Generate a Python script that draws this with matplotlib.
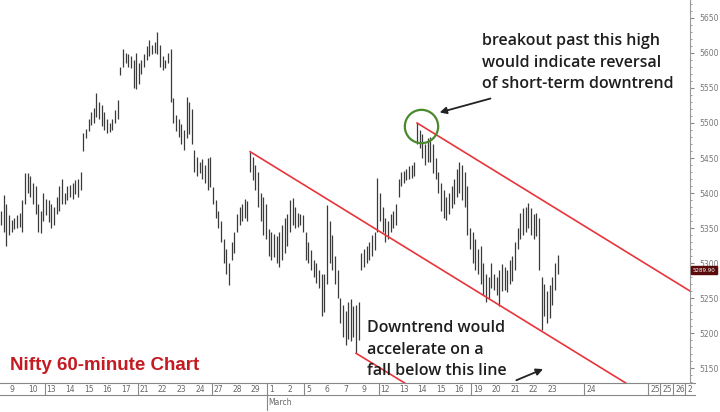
import numpy as np
import matplotlib.pyplot as plt
import matplotlib.transforms as mtransforms
from matplotlib.ticker import MultipleLocator

# trading days shown on the strip (Feb-Mar) and hourly bars per day
day_labels = ['', '9', '10', '13', '14', '15', '16', '17', '21', '22', '23', '24', '27', '28', '29',
              '1', '2', '5', '6', '7', '9', '12', '13', '14', '15', '16', '19', '20', '21', '22', '23']
bars_per_day = [3] + [7] * 29 + [5]
week_starts = ['13', '21', '27', '1', '5', '12', '19']  # days with a separator before them (first match after index 2)

# hourly highs / lows, one row per day
highs = [
    5375, 5397, 5385,
    5368, 5362, 5365, 5368, 5372, 5390, 5428,
    5428, 5425, 5415, 5410, 5385, 5375, 5400,
    5392, 5390, 5385, 5380, 5395, 5410, 5420,
    5400, 5410, 5412, 5415, 5418, 5420, 5430,
    5486, 5492, 5505, 5515, 5522, 5543, 5530,
    5525, 5515, 5505, 5500, 5505, 5518, 5533,
    5580, 5605, 5600, 5598, 5595, 5590, 5600,
    5585, 5590, 5598, 5610, 5618, 5612, 5615,
    5630, 5612, 5595, 5590, 5600, 5605, 5535,
    5512, 5505, 5498, 5490, 5537, 5530, 5520,
    5462, 5452, 5445, 5448, 5440, 5450, 5452,
    5408, 5390, 5375, 5360, 5335, 5320, 5300,
    5330, 5345, 5370, 5380, 5385, 5392, 5388,
    5459, 5452, 5440, 5430, 5400, 5395, 5385,
    5348, 5345, 5342, 5338, 5345, 5355, 5365,
    5370, 5390, 5393, 5380, 5372, 5370, 5368,
    5345, 5330, 5318, 5305, 5300, 5290, 5285,
    5285, 5383, 5360, 5340, 5310, 5290, 5250,
    5240, 5232, 5245, 5248, 5238, 5240, 5245,
    5315, 5320, 5325, 5330, 5340, 5345, 5421,
    5400, 5380, 5365, 5360, 5370, 5375, 5385,
    5420, 5430, 5432, 5435, 5438, 5440, 5445,
    5500, 5490, 5485, 5470, 5478, 5480, 5470,
    5450, 5430, 5415, 5405, 5395, 5400, 5410,
    5420, 5435, 5444, 5440, 5430, 5410, 5350,
    5345, 5335, 5320, 5325, 5300, 5285, 5280,
    5300, 5285, 5280, 5290, 5298, 5295, 5290,
    5305, 5310, 5330, 5350, 5372, 5378, 5380,
    5386, 5378, 5370, 5372, 5365, 5280, 5270,
    5260, 5268, 5280, 5300, 5311,
]
lows = [
    5355, 5345, 5325,
    5340, 5345, 5348, 5350, 5352, 5345, 5385,
    5400, 5395, 5385, 5370, 5345, 5343, 5360,
    5368, 5358, 5350, 5355, 5370, 5375, 5385,
    5385, 5390, 5395, 5392, 5398, 5395, 5405,
    5460, 5478, 5488, 5497, 5500, 5508, 5505,
    5495, 5490, 5486, 5487, 5490, 5500, 5505,
    5568, 5580, 5585, 5580, 5578, 5550, 5548,
    5555, 5570, 5580, 5590, 5595, 5598, 5600,
    5598, 5580, 5575, 5578, 5585, 5530, 5500,
    5488, 5480, 5470, 5462, 5478, 5485, 5470,
    5430, 5425, 5428, 5420, 5415, 5405, 5408,
    5385, 5365, 5350, 5330, 5300, 5285, 5268,
    5305, 5315, 5345, 5355, 5360, 5365, 5360,
    5430, 5418, 5405, 5380, 5360, 5340, 5335,
    5310, 5305, 5308, 5300, 5295, 5305, 5315,
    5325, 5345, 5355, 5350, 5352, 5355, 5345,
    5305, 5300, 5290, 5280, 5272, 5265, 5225,
    5230, 5270, 5300, 5290, 5270, 5250, 5215,
    5195, 5183, 5192, 5188, 5195, 5171, 5190,
    5290, 5295, 5300, 5305, 5310, 5318, 5345,
    5360, 5345, 5330, 5335, 5345, 5350, 5355,
    5395, 5410, 5415, 5418, 5420, 5422, 5425,
    5470, 5465, 5450, 5440, 5445, 5445, 5428,
    5420, 5400, 5375, 5365, 5362, 5370, 5378,
    5385, 5395, 5400, 5390, 5380, 5340, 5320,
    5300, 5290, 5285, 5270, 5255, 5245, 5250,
    5265, 5262, 5255, 5238, 5260, 5262, 5258,
    5270, 5275, 5290, 5320, 5335, 5340, 5345,
    5350, 5340, 5335, 5338, 5290, 5205, 5225,
    5215, 5222, 5240, 5262, 5285,
]
last_price = "5289.90"

# trend lines (bar index, price)
down_x = [94, 236]
down_y = [5459, 5128]
lower_x = [134, 153]
lower_y = [5171, 5127]
channel_x = [157, 260]
channel_y = [5500, 5260]

# empty future days on the strip (bar index, label)
future_pos = [221, 245, 249.5, 254.5, 259]
future_labels = ['24', '25', '25', '26', '2']

fig = plt.figure(figsize=(7.2, 4.12), dpi=100)
ax = fig.add_axes([0, 29 / 412, 690 / 720, 383 / 412])

x = np.arange(len(highs))
ax.vlines(x, lows, highs, color='#3a3a3a', lw=0.9)

ax.plot(down_x, down_y, color='#e8343a', lw=1.2)
ax.plot(lower_x, lower_y, color='#e8343a', lw=1.2)
ax.plot(channel_x, channel_y, color='#e8343a', lw=1.2)

ax.plot(158.5, 5496, 'o', ms=24, mfc='none', mec='#4a8a2c', mew=1.6)

ax.set_xlim(-0.4, 260)
ax.set_ylim(5128.6, 5675.7)

# right price axis
ax.yaxis.tick_right()
ax.yaxis.set_major_locator(MultipleLocator(50))
ax.yaxis.set_minor_locator(MultipleLocator(10))
ax.tick_params(axis='y', which='major', length=3, labelsize=5.5, labelcolor='#777777', color='#888888', pad=4)
ax.tick_params(axis='y', which='minor', length=1.5, color='#888888')
ax.set_xticks([])
for s in ['top', 'left', 'bottom']:
    ax.spines[s].set_visible(False)
ax.spines['right'].set_color('#999999')

# date strip under the bars
trans = mtransforms.blended_transform_factory(ax.transData, ax.transAxes)
strip_h = 12 / 383
ax.plot([-0.4, 262], [0, 0], color='#888888', lw=0.8, transform=trans, clip_on=False)
ax.plot([-0.4, 262], [-strip_h, -strip_h], color='#888888', lw=0.8, transform=trans, clip_on=False)
start = 0
seen_week = set()
for i, (lab, n) in enumerate(zip(day_labels, bars_per_day)):
    ax.text(start + 0.2, -strip_h / 2, lab, transform=trans, fontsize=5.5, color='#666666',
            ha='left', va='center', clip_on=False)
    if i > 2 and lab in week_starts and lab not in seen_week:
        seen_week.add(lab)
        bottom = -0.07 if lab == '1' else -strip_h
        ax.plot([start - 0.5, start - 0.5], [0, bottom], color='#888888', lw=0.8,
                transform=trans, clip_on=False)
        if lab == '1':
            ax.text(start, -0.05, 'March', transform=trans, fontsize=5.5, color='#666666',
                    ha='left', va='center', clip_on=False)
    start += n
for p, lab in zip(future_pos, future_labels):
    ax.plot([p - 1, p - 1], [0, -strip_h], color='#888888', lw=0.8, transform=trans, clip_on=False)
    ax.text(p, -strip_h / 2, lab, transform=trans, fontsize=5.5, color='#666666',
            ha='left', va='center', clip_on=False)

# last price tag
ptrans = mtransforms.blended_transform_factory(ax.transAxes, ax.transData)
ax.text(1.004, 5290, last_price, transform=ptrans, fontsize=4, color='white', ha='left', va='center',
        bbox=dict(boxstyle='square,pad=0.3', fc='#5a0a0a', ec='#5a0a0a'), clip_on=False)

# annotations
txt = dict(fontsize=11.5, color='#1e1e1e', fontweight='semibold', family=['Open Sans', 'DejaVu Sans'],
           linespacing=1.45, ha='left', va='top')
ax.text(181.5, 5628, 'breakout past this high\nwould indicate reversal\nof short-term downtrend', **txt)
ax.text(138, 5218, 'Downtrend would\naccelerate on a\nfall below this line', **txt)
ax.text(3.4, 5154, 'Nifty 60-minute Chart', fontsize=13.5, color='#c41a22', fontweight='bold',
        family=['Liberation Sans', 'DejaVu Sans'], ha='left', va='center')

ax.annotate('', xy=(164.5, 5514), xytext=(185.7, 5536),
            arrowprops=dict(arrowstyle='-|>', color='#222222', lw=1.3, mutation_scale=10))
ax.annotate('', xy=(205.5, 5150), xytext=(193.5, 5131),
            arrowprops=dict(arrowstyle='-|>', color='#222222', lw=1.3, mutation_scale=10))

fig.savefig('out.png', dpi=100)
